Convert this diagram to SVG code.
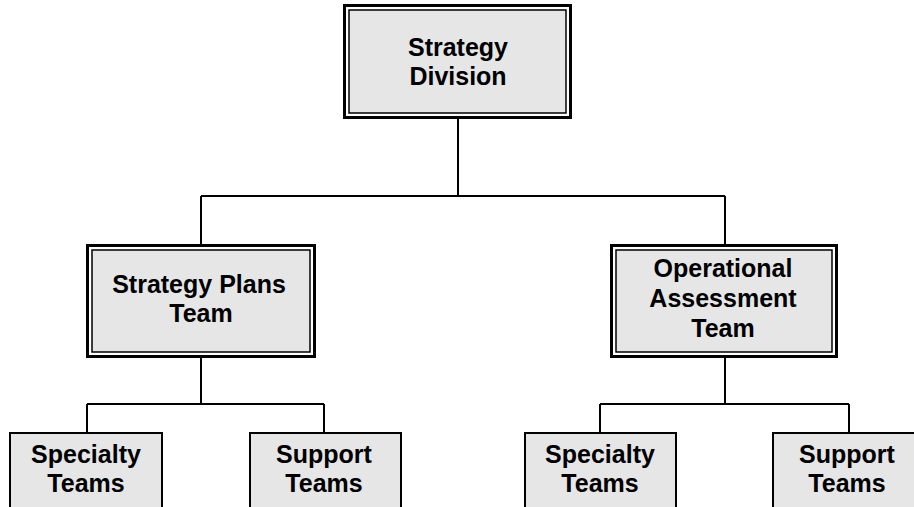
<svg xmlns="http://www.w3.org/2000/svg" width="914" height="507" viewBox="0 0 914 507">
<style>
.outer{fill:#ffffff;stroke:#000;stroke-width:3}
.inner{fill:#e6e6e6;stroke:#000;stroke-width:1.5}
.box{fill:#e6e6e6;stroke:#000;stroke-width:2}
.lbl{font-family:"Liberation Sans",Arial,sans-serif;font-weight:bold;font-size:25px;fill:#000;text-anchor:middle}
.conn{fill:none;stroke:#000;stroke-width:2}
</style>
<rect width="914" height="507" fill="#ffffff"/>
<g id="connectors" class="conn">
<path d="M458 119V196M201 196H725M201 196V244M725 196V244"/>
<path d="M201 358V404M87 404H324M87 404V432M324 404V432"/>
<path d="M725 358V404M600 404H849M600 404V432M849 404V432"/>
</g>
<g id="strategy-division">
<rect class="outer" x="344.5" y="5.5" width="226" height="112"/>
<rect class="inner" x="349" y="10" width="217" height="103"/>
<text class="lbl" x="458" y="56">Strategy</text>
<text class="lbl" x="458" y="85">Division</text>
</g>
<g id="strategy-plans-team">
<rect class="outer" x="87.5" y="245.5" width="227" height="111"/>
<rect class="inner" x="92" y="250" width="218" height="102"/>
<text class="lbl" x="199" y="293">Strategy Plans</text>
<text class="lbl" x="201" y="322">Team</text>
</g>
<g id="operational-assessment-team">
<rect class="outer" x="611.5" y="245.5" width="225" height="111"/>
<rect class="inner" x="616" y="250" width="216" height="102"/>
<text class="lbl" x="723" y="277">Operational</text>
<text class="lbl" x="723" y="307">Assessment</text>
<text class="lbl" x="723" y="337">Team</text>
</g>
<g id="specialty-teams-1">
<rect class="box" x="10" y="433" width="152" height="90"/>
<text class="lbl" x="86" y="463">Specialty</text>
<text class="lbl" x="86" y="492">Teams</text>
</g>
<g id="support-teams-1">
<rect class="box" x="250" y="433" width="151" height="90"/>
<text class="lbl" x="324" y="463">Support</text>
<text class="lbl" x="324" y="492">Teams</text>
</g>
<g id="specialty-teams-2">
<rect class="box" x="525" y="433" width="151" height="90"/>
<text class="lbl" x="600" y="463">Specialty</text>
<text class="lbl" x="600" y="492">Teams</text>
</g>
<g id="support-teams-2">
<rect class="box" x="773" y="433" width="152" height="90"/>
<text class="lbl" x="847" y="463">Support</text>
<text class="lbl" x="847" y="492">Teams</text>
</g>
</svg>
